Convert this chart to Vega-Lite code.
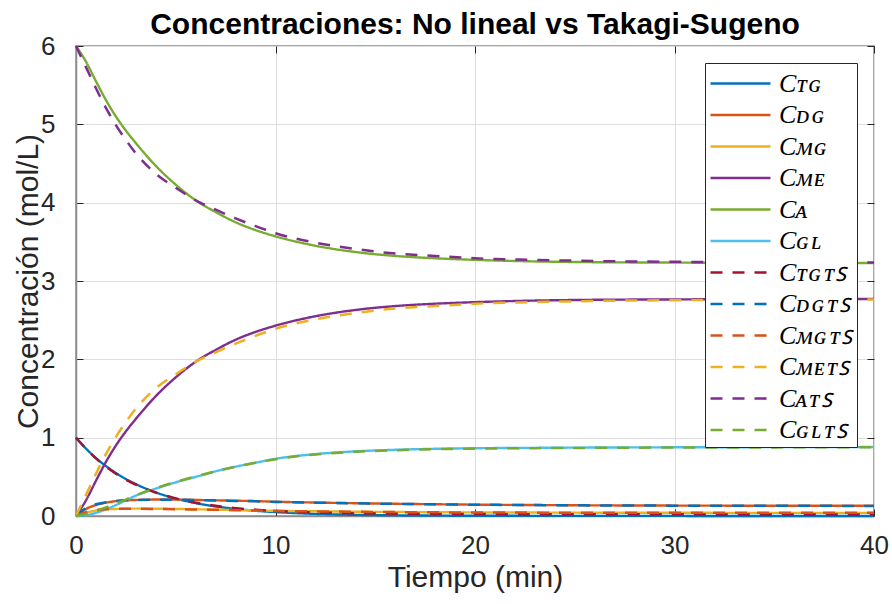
{
  "$schema": "https://vega.github.io/schema/vega-lite/v6.json",
  "width": 798,
  "height": 470,
  "autosize": {"type": "none"},
  "padding": {"left": 76, "top": 46, "right": 18, "bottom": 88},
  "background": "white",
  "title": {
    "text": "Concentraciones: No lineal vs Takagi-Sugeno",
    "font": "Liberation Sans",
    "fontSize": 30,
    "fontWeight": "bold",
    "color": "#000000",
    "anchor": "middle",
    "offset": -7
  },
  "data": {
    "values": [
      {"t": 0, "TG": 1, "DG": 0, "MG": 0, "ME": 0, "A": 6, "GL": 0, "TGTS": 1, "DGTS": 0, "MGTS": 0, "METS": 0, "ATS": 6, "GLTS": 0},
      {"t": 0.5, "TG": 0.861, "DG": 0.09, "MG": 0.04, "ME": 0.2, "A": 5.8, "GL": 0.01, "TGTS": 0.86, "DGTS": 0.1, "MGTS": 0.05, "METS": 0.27, "ATS": 5.73, "GLTS": 0.025},
      {"t": 1, "TG": 0.741, "DG": 0.14, "MG": 0.07, "ME": 0.45, "A": 5.55, "GL": 0.04, "TGTS": 0.735, "DGTS": 0.15, "MGTS": 0.075, "METS": 0.54, "ATS": 5.46, "GLTS": 0.065},
      {"t": 1.5, "TG": 0.638, "DG": 0.17, "MG": 0.085, "ME": 0.69, "A": 5.31, "GL": 0.085, "TGTS": 0.63, "DGTS": 0.175, "MGTS": 0.087, "METS": 0.79, "ATS": 5.21, "GLTS": 0.11},
      {"t": 2, "TG": 0.549, "DG": 0.19, "MG": 0.09, "ME": 0.9, "A": 5.1, "GL": 0.14, "TGTS": 0.54, "DGTS": 0.19, "MGTS": 0.091, "METS": 1.01, "ATS": 4.99, "GLTS": 0.16},
      {"t": 2.5, "TG": 0.472, "DG": 0.2, "MG": 0.093, "ME": 1.08, "A": 4.92, "GL": 0.2, "TGTS": 0.465, "DGTS": 0.2, "MGTS": 0.092, "METS": 1.2, "ATS": 4.8, "GLTS": 0.21},
      {"t": 3, "TG": 0.407, "DG": 0.205, "MG": 0.094, "ME": 1.24, "A": 4.76, "GL": 0.26, "TGTS": 0.4, "DGTS": 0.205, "MGTS": 0.092, "METS": 1.37, "ATS": 4.63, "GLTS": 0.265},
      {"t": 4, "TG": 0.301, "DG": 0.21, "MG": 0.093, "ME": 1.53, "A": 4.47, "GL": 0.35, "TGTS": 0.3, "DGTS": 0.208, "MGTS": 0.09, "METS": 1.63, "ATS": 4.37, "GLTS": 0.355},
      {"t": 5, "TG": 0.223, "DG": 0.21, "MG": 0.09, "ME": 1.77, "A": 4.23, "GL": 0.43, "TGTS": 0.225, "DGTS": 0.207, "MGTS": 0.087, "METS": 1.81, "ATS": 4.19, "GLTS": 0.435},
      {"t": 6, "TG": 0.165, "DG": 0.205, "MG": 0.086, "ME": 1.97, "A": 4.03, "GL": 0.5, "TGTS": 0.17, "DGTS": 0.203, "MGTS": 0.083, "METS": 1.97, "ATS": 4.03, "GLTS": 0.505},
      {"t": 7, "TG": 0.122, "DG": 0.2, "MG": 0.081, "ME": 2.12, "A": 3.88, "GL": 0.57, "TGTS": 0.13, "DGTS": 0.198, "MGTS": 0.079, "METS": 2.09, "ATS": 3.91, "GLTS": 0.57},
      {"t": 8, "TG": 0.091, "DG": 0.195, "MG": 0.076, "ME": 2.25, "A": 3.75, "GL": 0.63, "TGTS": 0.1, "DGTS": 0.193, "MGTS": 0.074, "METS": 2.2, "ATS": 3.8, "GLTS": 0.63},
      {"t": 9, "TG": 0.067, "DG": 0.19, "MG": 0.071, "ME": 2.35, "A": 3.65, "GL": 0.68, "TGTS": 0.08, "DGTS": 0.188, "MGTS": 0.07, "METS": 2.3, "ATS": 3.7, "GLTS": 0.68},
      {"t": 10, "TG": 0.05, "DG": 0.182, "MG": 0.066, "ME": 2.43, "A": 3.57, "GL": 0.73, "TGTS": 0.065, "DGTS": 0.18, "MGTS": 0.065, "METS": 2.39, "ATS": 3.61, "GLTS": 0.725},
      {"t": 12, "TG": 0.027, "DG": 0.172, "MG": 0.06, "ME": 2.55, "A": 3.45, "GL": 0.79, "TGTS": 0.045, "DGTS": 0.17, "MGTS": 0.059, "METS": 2.51, "ATS": 3.49, "GLTS": 0.785},
      {"t": 14, "TG": 0.015, "DG": 0.163, "MG": 0.055, "ME": 2.63, "A": 3.37, "GL": 0.825, "TGTS": 0.035, "DGTS": 0.162, "MGTS": 0.054, "METS": 2.59, "ATS": 3.41, "GLTS": 0.82},
      {"t": 16, "TG": 0.008, "DG": 0.156, "MG": 0.051, "ME": 2.68, "A": 3.32, "GL": 0.845, "TGTS": 0.03, "DGTS": 0.155, "MGTS": 0.05, "METS": 2.65, "ATS": 3.35, "GLTS": 0.84},
      {"t": 18, "TG": 0.005, "DG": 0.15, "MG": 0.048, "ME": 2.71, "A": 3.29, "GL": 0.858, "TGTS": 0.027, "DGTS": 0.149, "MGTS": 0.047, "METS": 2.68, "ATS": 3.32, "GLTS": 0.853},
      {"t": 20, "TG": 0.003, "DG": 0.145, "MG": 0.046, "ME": 2.73, "A": 3.27, "GL": 0.865, "TGTS": 0.025, "DGTS": 0.144, "MGTS": 0.045, "METS": 2.71, "ATS": 3.29, "GLTS": 0.86},
      {"t": 23, "TG": 0.002, "DG": 0.14, "MG": 0.044, "ME": 2.75, "A": 3.25, "GL": 0.87, "TGTS": 0.023, "DGTS": 0.139, "MGTS": 0.043, "METS": 2.73, "ATS": 3.27, "GLTS": 0.866},
      {"t": 26, "TG": 0.001, "DG": 0.136, "MG": 0.042, "ME": 2.76, "A": 3.24, "GL": 0.874, "TGTS": 0.022, "DGTS": 0.135, "MGTS": 0.042, "METS": 2.745, "ATS": 3.255, "GLTS": 0.87},
      {"t": 30, "TG": 0.001, "DG": 0.133, "MG": 0.041, "ME": 2.765, "A": 3.235, "GL": 0.877, "TGTS": 0.021, "DGTS": 0.132, "MGTS": 0.041, "METS": 2.755, "ATS": 3.245, "GLTS": 0.874},
      {"t": 35, "TG": 0, "DG": 0.131, "MG": 0.04, "ME": 2.77, "A": 3.23, "GL": 0.879, "TGTS": 0.02, "DGTS": 0.13, "MGTS": 0.04, "METS": 2.76, "ATS": 3.24, "GLTS": 0.876},
      {"t": 40, "TG": 0, "DG": 0.13, "MG": 0.04, "ME": 2.77, "A": 3.23, "GL": 0.88, "TGTS": 0.02, "DGTS": 0.129, "MGTS": 0.04, "METS": 2.765, "ATS": 3.235, "GLTS": 0.878}
    ]
  },
  "layer": [
    {
      "transform": [{"fold": ["TG", "DG", "MG", "ME", "A", "GL"], "as": ["serie", "c"]}],
      "mark": {"type": "line", "interpolate": "monotone", "strokeWidth": 2.4},
      "encoding": {
        "x": {
          "field": "t", "type": "quantitative",
          "scale": {"domain": [0, 40], "nice": false},
          "axis": {"orient": "bottom", "values": [0, 10, 20, 30, 40], "title": "Tiempo (min)", "grid": true}
        },
        "y": {
          "field": "c", "type": "quantitative",
          "scale": {"domain": [0, 6], "nice": false},
          "axis": {"orient": "left", "values": [0, 1, 2, 3, 4, 5, 6], "title": "Concentración (mol/L)", "grid": true}
        },
        "color": {
          "field": "serie", "type": "nominal",
          "scale": {
            "domain": ["TG", "DG", "MG", "ME", "A", "GL", "TGTS", "DGTS", "MGTS", "METS", "ATS", "GLTS"],
            "range": ["#0072BD", "#D95319", "#EDB120", "#7E2F8E", "#77AC30", "#4DBEEE", "#A2142F", "#0072BD", "#D95319", "#EDB120", "#7E2F8E", "#77AC30"]
          },
          "legend": {
            "title": null,
            "orient": "top-right",
            "offset": 17,
            "labelExpr": "'C' + replace(replace(replace(replace(replace(replace(replace(replace(replace(datum.label, regexp('T','g'), 'ᴛ'), regexp('G','g'), 'ɢ'), regexp('D','g'), 'ᴅ'), regexp('M','g'), 'ᴍ'), regexp('E','g'), 'ᴇ'), regexp('A','g'), 'ᴀ'), regexp('L','g'), 'ʟ'), regexp('S','g'), 'ꜱ'), regexp('(.)(?=.)','g'), '$1\u200a')"
          }
        },
        "strokeDash": {
          "field": "serie", "type": "nominal",
          "scale": {
            "domain": ["TG", "DG", "MG", "ME", "A", "GL", "TGTS", "DGTS", "MGTS", "METS", "ATS", "GLTS"],
            "range": [[1, 0], [1, 0], [1, 0], [1, 0], [1, 0], [1, 0], [12, 10], [12, 10], [12, 10], [12, 10], [12, 10], [12, 10]]
          }
        }
      }
    },
    {
      "transform": [{"fold": ["TGTS", "DGTS", "MGTS", "METS", "ATS", "GLTS"], "as": ["serie", "c"]}],
      "mark": {"type": "line", "interpolate": "monotone", "strokeWidth": 2.5},
      "encoding": {
        "x": {"field": "t", "type": "quantitative", "scale": {"domain": [0, 40], "nice": false}, "axis": null},
        "y": {"field": "c", "type": "quantitative", "scale": {"domain": [0, 6], "nice": false}, "axis": null},
        "color": {"field": "serie", "type": "nominal"},
        "strokeDash": {"field": "serie", "type": "nominal"}
      }
    },
    {
      "mark": {"type": "point", "opacity": 0},
      "encoding": {
        "x": {
          "field": "t", "type": "quantitative",
          "scale": {"domain": [0, 40], "nice": false},
          "axis": {"orient": "top", "values": [0, 10, 20, 30, 40], "labels": false, "title": null, "grid": false, "domain": false}
        },
        "y": {
          "field": "TG", "type": "quantitative",
          "scale": {"domain": [0, 6], "nice": false},
          "axis": {"orient": "right", "values": [0, 1, 2, 3, 4, 5, 6], "labels": false, "title": null, "grid": false, "domain": false}
        }
      }
    }
  ],
  "resolve": {"axis": {"x": "independent", "y": "independent"}},
  "config": {
    "view": {"stroke": "#8c8c8c", "strokeWidth": 1.5},
    "axis": {
      "domainColor": "#8c8c8c",
      "domainWidth": 1.5,
      "gridColor": "#dedede",
      "gridWidth": 1,
      "tickColor": "#262626",
      "tickSize": -7,
      "tickWidth": 1,
      "labelFont": "Liberation Sans",
      "labelFontSize": 26,
      "labelColor": "#262626",
      "labelFlush": false,
      "titleFont": "Liberation Sans",
      "titleFontSize": 30,
      "titleFontWeight": "normal",
      "titleColor": "#262626"
    },
    "axisBottom": {"labelPadding": 23, "titlePadding": 4},
    "axisLeft": {"labelPadding": 28, "titlePadding": -3},
    "legend": {
      "symbolType": "M-1,0H3",
      "symbolSize": 900,
      "symbolStrokeWidth": 2.6,
      "labelFont": "Liberation Serif",
      "labelFontStyle": "italic",
      "labelFontSize": 26,
      "labelColor": "#000000",
      "labelOffset": 37,
      "strokeColor": "#262626",
      "fillColor": "#ffffff",
      "padding": 4,
      "rowPadding": 1.5
    }
  }
}
